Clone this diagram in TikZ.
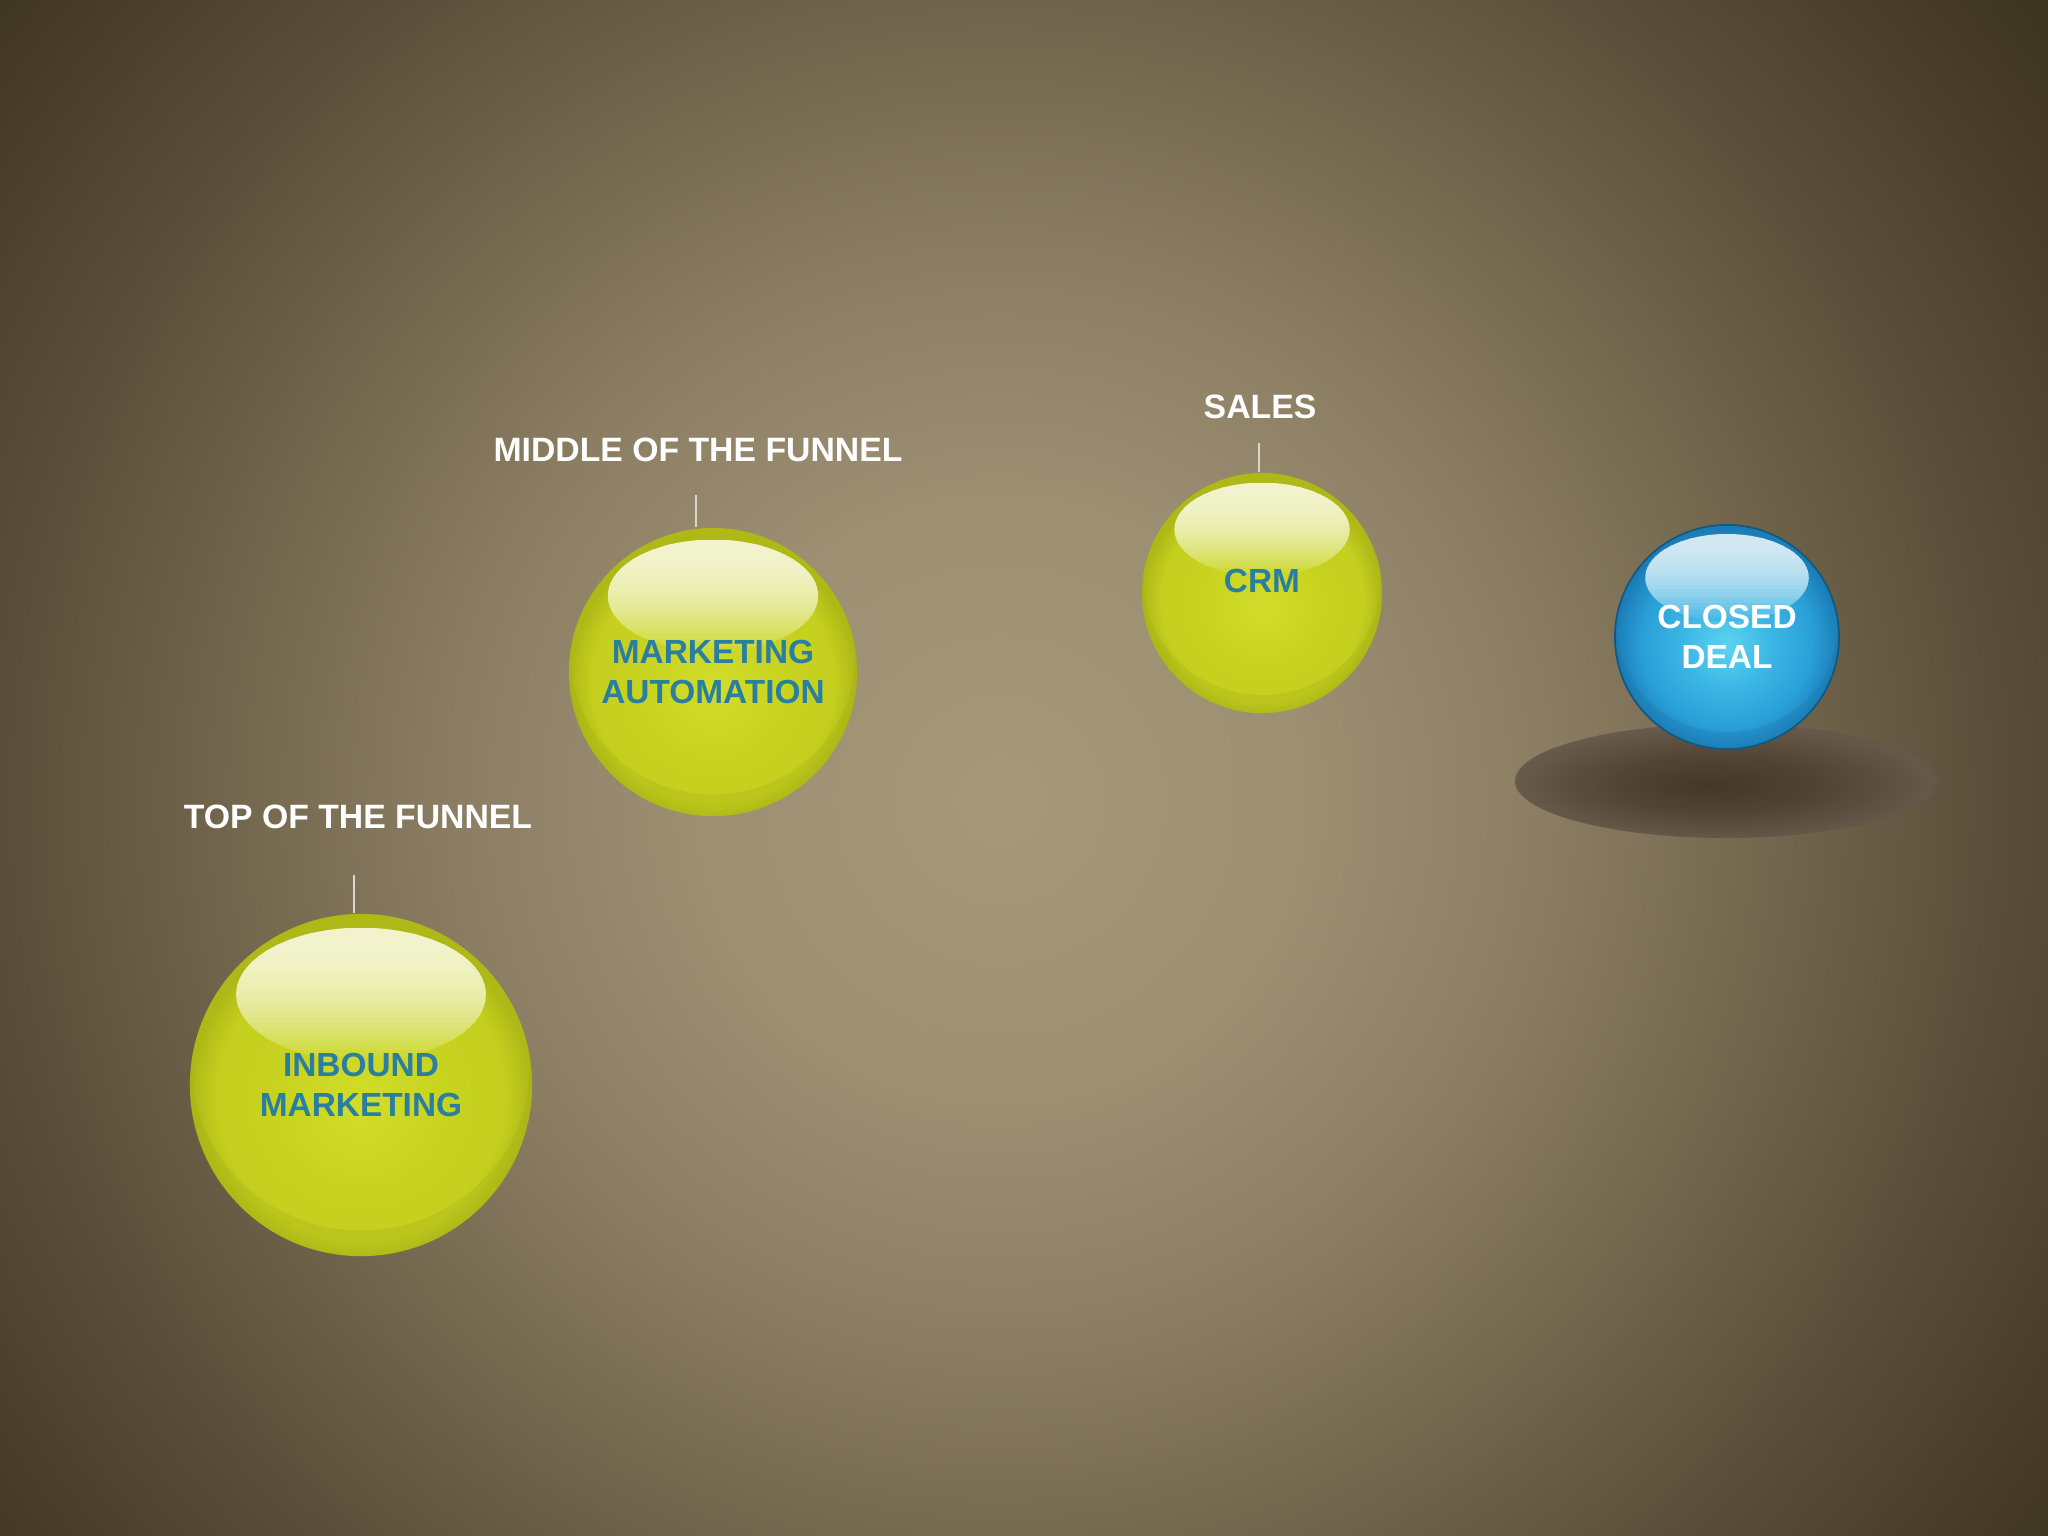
\documentclass[tikz,border=0pt]{standalone}
\usepackage{fontspec}
\setmainfont{Liberation Sans}
\usetikzlibrary{calc}

\definecolor{bg0}{HTML}{A69979}
\definecolor{bg1}{HTML}{9C8F72}
\definecolor{bg2}{HTML}{8A7D62}
\definecolor{bg3}{HTML}{74684F}
\definecolor{bg4}{HTML}{5A4E3A}
\definecolor{bg5}{HTML}{3E3422}
\definecolor{gcore}{HTML}{D2DC2A}
\definecolor{gbase}{HTML}{C8D320}
\definecolor{gedge}{HTML}{AEB816}
\definecolor{gband}{HTML}{9CA614}
\definecolor{ghitop}{HTML}{F2F3CD}
\definecolor{ghibot}{HTML}{CBD627}
\definecolor{bcore}{HTML}{5CD4F0}
\definecolor{bmid}{HTML}{3BB6E4}
\definecolor{bbase}{HTML}{2A9FD8}
\definecolor{bedge}{HTML}{1B7DB6}
\definecolor{bband}{HTML}{1770A6}
\definecolor{bhitop}{HTML}{D0E8F2}
\definecolor{bhibot}{HTML}{3DB5E4}
\definecolor{txtblue}{HTML}{2A7FA1}
\definecolor{stemcol}{HTML}{DCD6C8}
\definecolor{shin}{HTML}{3E3226}
\definecolor{shmid}{HTML}{4D4031}
\definecolor{shout}{HTML}{66584A}

% backdrop glow, edge of the circle at 25bp
\pgfdeclareradialshading{bgshade}{\pgfpoint{0bp}{0bp}}{color(0bp)=(bg0); color(5.4bp)=(bg1); color(9.8bp)=(bg2); color(13.4bp)=(bg3); color(17.9bp)=(bg4); color(23.2bp)=(bg5); color(50bp)=(bg5)}
\pgfdeclareradialshading{greenshade}{\pgfpoint{0bp}{-3bp}}{color(0bp)=(gcore); color(13bp)=(gbase); color(21bp)=(gbase!85!gedge); color(25bp)=(gedge); color(50bp)=(gedge)}
\pgfdeclareradialshading{blueshade}{\pgfpoint{0bp}{-2bp}}{color(0bp)=(bcore); color(10bp)=(bmid); color(19bp)=(bbase); color(25bp)=(bedge); color(50bp)=(bedge)}
\pgfdeclareradialshading{shadowshade}{\pgfpoint{-2bp}{-2bp}}{color(0bp)=(shin); color(12bp)=(shmid); color(25bp)=(shout); color(50bp)=(shout)}

\tikzset{
  toplabel/.style={text=white, inner sep=0pt, font=\fontsize{9.6}{11.5}\selectfont\bfseries},
  stem/.style={draw=stemcol, line width=0.6pt},
  % gloss: lower rim band, then strips from hitop down to hibot clipped to the upper ellipse
  gloss/.style n args={4}{path picture={
    \fill[#4, opacity=0.22, even odd rule] (path picture bounding box.center) circle (#1)
      ($(path picture bounding box.center)+(0,-0.1*#1)$) ellipse ({0.985*#1} and {0.95*#1});
    \begin{scope}
      \clip ($(path picture bounding box.center)+(0,-0.53*#1)$) ellipse ({0.73*#1} and {0.39*#1});
      \foreach \k [evaluate=\k as \p using {100*(1-((\k+0.5)/24)^2.2)}] in {0,...,23}
        \fill[#2!\p!#3] ($(path picture bounding box.center)+(-#1,{-0.92*#1+0.0325*#1*\k})$)
          rectangle ($(path picture bounding box.center)+(#1,{-0.92*#1+0.0325*#1*(\k+1.3)})$);
    \end{scope}}},
  greenball/.style={circle, inner sep=0pt, minimum size=#1*0.02cm, shade, shading=greenshade,
    text=txtblue, align=center, font=\fontsize{9.5}{11.4}\selectfont\bfseries,
    gloss={#1}{ghitop}{ghibot}{gband}},
  blueball/.style={circle, inner sep=0pt, minimum size=#1*0.02cm, shade, shading=blueshade,
    draw=bedge!70!black, line width=0.5pt,
    text=white, align=center, font=\fontsize{9.5}{11.4}\selectfont\bfseries,
    gloss={#1}{bhitop}{bhibot}{bband}}
}

\begin{document}
\begin{tikzpicture}[x=0.01cm,y=-0.01cm]
  % backdrop
  \useasboundingbox (0,0) rectangle (2048,1536);
  \begin{scope}
    \clip (0,0) rectangle (2048,1536);
    \shade[shading=bgshade] (1000,800) circle (1400);
  \end{scope}

  % shadow under the last ball
  \shade[shading=shadowshade, opacity=0.9] (1726,781) ellipse (211 and 57);

  % balls
  \node[greenball=171] (inbound) at (361,1085) {INBOUND\\MARKETING};
  \node[greenball=144] (automation) at (713,672) {MARKETING\\AUTOMATION};
  \node[greenball=120] (crm) at (1262,593) {\raisebox{7pt}{CRM}};
  \node[blueball=112] (deal) at (1727,637) {CLOSED\\DEAL};

  % stage labels
  \node[toplabel] (tofu) at (358,817) {TOP OF THE FUNNEL};
  \node[toplabel] (mofu) at (698,450) {MIDDLE OF THE FUNNEL};
  \node[toplabel] (sales) at (1260,407) {SALES};

  \coordinate (s1) at (354,875);
  \coordinate (s2) at (696,495);
  \coordinate (s3) at (1259,443);
  \draw[stem] (s1) -- (s1 |- inbound.north);
  \draw[stem] (s2) -- (s2 |- automation.north);
  \draw[stem] (s3) -- (s3 |- crm.north);
\end{tikzpicture}
\end{document}
